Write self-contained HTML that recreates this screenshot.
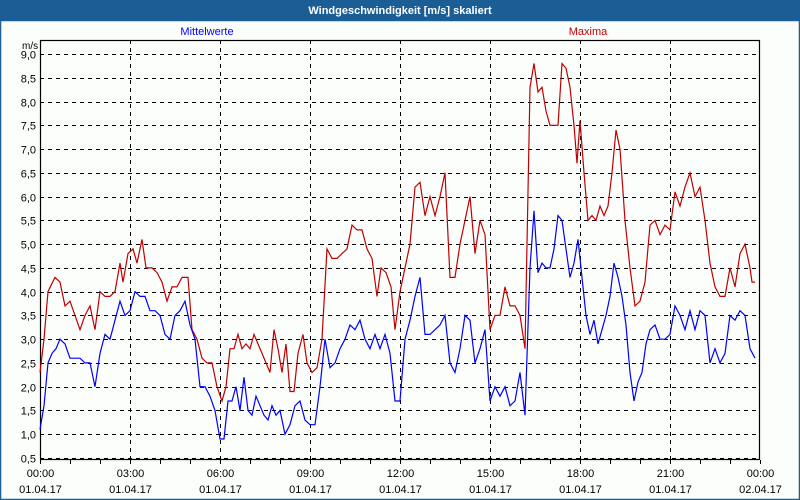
<!DOCTYPE html>
<html><head><meta charset="utf-8"><style>
html,body{margin:0;padding:0;background:#fff;}
body{width:800px;height:500px;overflow:hidden;position:relative;font-family:"Liberation Sans",sans-serif;}
</style></head><body>
<svg id="s" width="800" height="500" xmlns="http://www.w3.org/2000/svg" style="position:absolute;left:0;top:0;font-family:'Liberation Sans',sans-serif;font-size:11px">
<rect x="0" y="0" width="800" height="500" fill="#fcfefc"/>
<rect x="0" y="0" width="800" height="21" fill="#1b5e96"/>
<rect x="0.5" y="20.5" width="799" height="479" fill="none" stroke="#1b5e96" stroke-width="1.5"/>
<text x="400" y="14" fill="#fff" font-weight="bold" text-anchor="middle">Windgeschwindigkeit [m/s] skaliert</text>
<text x="207" y="35" fill="#0000ff" text-anchor="middle">Mittelwerte</text>
<text x="588" y="35" fill="#c00000" text-anchor="middle">Maxima</text>
<text x="22" y="49" fill="#000" font-size="10" text-anchor="start">m/s</text>
<g id="grid"></g>
<rect x="40.5" y="40.5" width="719" height="419" fill="none" stroke="#000" stroke-width="1.2"/>
<polyline id="red" fill="none" stroke="#c00000" stroke-width="1.2"/>
<polyline id="blue" fill="none" stroke="#0000ff" stroke-width="1.2"/>
</svg>
<script>
var g=document.getElementById('grid'),ns='http://www.w3.org/2000/svg',h='';
function Y(v){return 54+(9-v)*47.53;}
for(var i=0;i<=17;i++){var v=0.5+i*0.5,y=Math.round(Y(v))+0.5;
h+='<line x1="40" x2="760" y1="'+y+'" y2="'+y+'" stroke="#000" stroke-dasharray="4,4"/>';
h+='<text x="36" y="'+(y+4)+'" text-anchor="end" fill="#000">'+v.toFixed(1).replace('.',',')+'</text>';}
var lab=['00:00','03:00','06:00','09:00','12:00','15:00','18:00','21:00','00:00'];
for(var k=0;k<=8;k++){var x=40+k*90+0.5;
if(k>0&&k<8)h+='<line x1="'+x+'" x2="'+x+'" y1="40" y2="460" stroke="#000" stroke-dasharray="4,4"/>';
h+='<text x="'+x+'" y="477" text-anchor="middle" fill="#000">'+lab[k]+'</text>';
h+='<text x="'+x+'" y="493" text-anchor="middle" fill="#000">'+(k==8?'02.04.17':'01.04.17')+'</text>';}
for(var m=0;m<=24;m++){var x=40+m*30+0.5;h+='<line x1="'+x+'" x2="'+x+'" y1="460" y2="464" stroke="#000"/>';}
g.innerHTML=h;
var R=[40,2.3,44,3.0,48,4.0,55,4.3,60,4.2,65,3.7,70,3.8,75,3.5,80,3.2,85,3.5,90,3.7,95,3.2,100,4.0,105,3.9,110,3.9,115,4.0,120,4.6,123,4.2,128,4.8,133,4.9,137,4.6,142,5.1,146,4.5,152,4.5,157,4.4,162,4.2,167,3.8,172,4.1,177,4.1,182,4.3,188,4.3,192,3.2,197,3.0,202,2.6,207,2.5,212,2.5,217,2.0,222,1.7,226,2.0,230,2.8,234,2.8,238,3.1,242,2.8,246,2.9,250,2.8,254,3.1,258,2.9,262,2.7,266,2.5,270,2.3,274,3.2,278,2.8,282,2.3,286,2.9,290,1.9,294,1.9,298,2.7,303,3.1,307,2.5,312,2.3,317,2.4,322,3.0,327,4.9,332,4.7,337,4.7,342,4.8,347,4.9,352,5.4,357,5.3,362,5.3,367,4.9,372,4.7,377,3.9,381,4.5,386,4.4,391,4.1,395,3.2,400,4.0,405,4.5,410,5.0,415,6.2,420,6.3,425,5.6,430,6.0,435,5.6,440,6.0,445,6.5,450,4.3,455,4.3,460,5.0,465,5.5,470,6.0,475,4.8,480,5.5,485,5.2,490,3.2,495,3.5,500,3.5,505,4.1,510,3.7,515,3.7,520,3.5,525,2.8,530,8.3,534,8.8,538,8.2,542,8.3,546,7.8,550,7.5,554,7.5,558,7.5,562,8.8,566,8.7,570,8.3,574,7.5,577,6.7,580,7.6,584,6.5,588,5.5,592,5.6,596,5.5,600,5.8,604,5.6,608,5.8,612,6.5,616,7.4,620,7.0,625,5.5,630,4.5,635,3.7,640,3.8,645,4.2,650,5.4,655,5.5,660,5.2,665,5.4,670,5.3,675,6.1,680,5.8,685,6.2,690,6.5,695,6.0,700,6.2,705,5.5,710,4.6,715,4.1,720,3.9,725,3.9,730,4.5,735,4.1,740,4.8,745,5.0,750,4.5,752,4.2,755,4.2];
var B=[40,1.1,44,1.6,48,2.5,52,2.7,56,2.8,60,3.0,65,2.9,70,2.6,75,2.6,80,2.6,85,2.5,90,2.5,95,2.0,100,2.7,105,3.1,110,3.0,115,3.4,120,3.8,125,3.5,130,3.6,135,4.0,140,3.9,145,3.9,150,3.6,155,3.6,160,3.5,165,3.1,170,3.0,175,3.5,180,3.6,185,3.8,190,3.3,195,3.0,200,2.0,205,2.0,210,1.8,215,1.5,220,0.9,224,0.9,228,1.7,232,1.7,236,2.0,240,1.5,244,2.2,248,1.5,252,1.4,256,1.8,260,1.6,264,1.4,268,1.3,272,1.6,276,1.4,280,1.5,285,1.0,290,1.2,295,1.6,300,1.7,305,1.3,310,1.2,315,1.2,320,2.0,325,3.0,330,2.4,335,2.5,340,2.8,345,3.0,350,3.3,355,3.2,360,3.4,365,3.0,370,2.8,375,3.1,380,2.8,385,3.1,390,2.7,395,1.7,400,1.7,405,3.0,410,3.4,415,3.9,420,4.3,425,3.1,430,3.1,435,3.2,440,3.3,445,3.5,450,2.5,455,2.3,460,2.8,465,3.5,470,3.4,475,2.5,480,2.8,485,3.2,490,1.7,495,2.0,500,1.8,505,2.0,510,1.6,515,1.7,520,2.3,525,1.4,530,4.5,534,5.7,538,4.4,542,4.6,546,4.5,550,4.5,554,4.9,558,5.6,562,5.5,566,4.9,570,4.3,574,4.6,578,5.1,582,4.3,586,3.5,590,3.1,594,3.4,598,2.9,602,3.2,606,3.5,610,3.9,614,4.6,618,4.3,622,3.9,626,3.3,630,2.3,634,1.7,638,2.1,642,2.3,646,2.9,650,3.2,655,3.3,660,3.0,665,3.0,670,3.1,675,3.7,680,3.5,685,3.2,690,3.6,695,3.2,700,3.6,705,3.5,710,2.5,715,2.8,720,2.5,725,2.7,730,3.5,735,3.4,740,3.6,745,3.5,750,2.8,755,2.6];
function pts(a){var s=[];for(var i=0;i<a.length;i+=2)s.push(a[i]+','+Y(a[i+1]).toFixed(1));return s.join(' ');}
document.getElementById('red').setAttribute('points',pts(R));
document.getElementById('blue').setAttribute('points',pts(B));
</script>
</body></html>
